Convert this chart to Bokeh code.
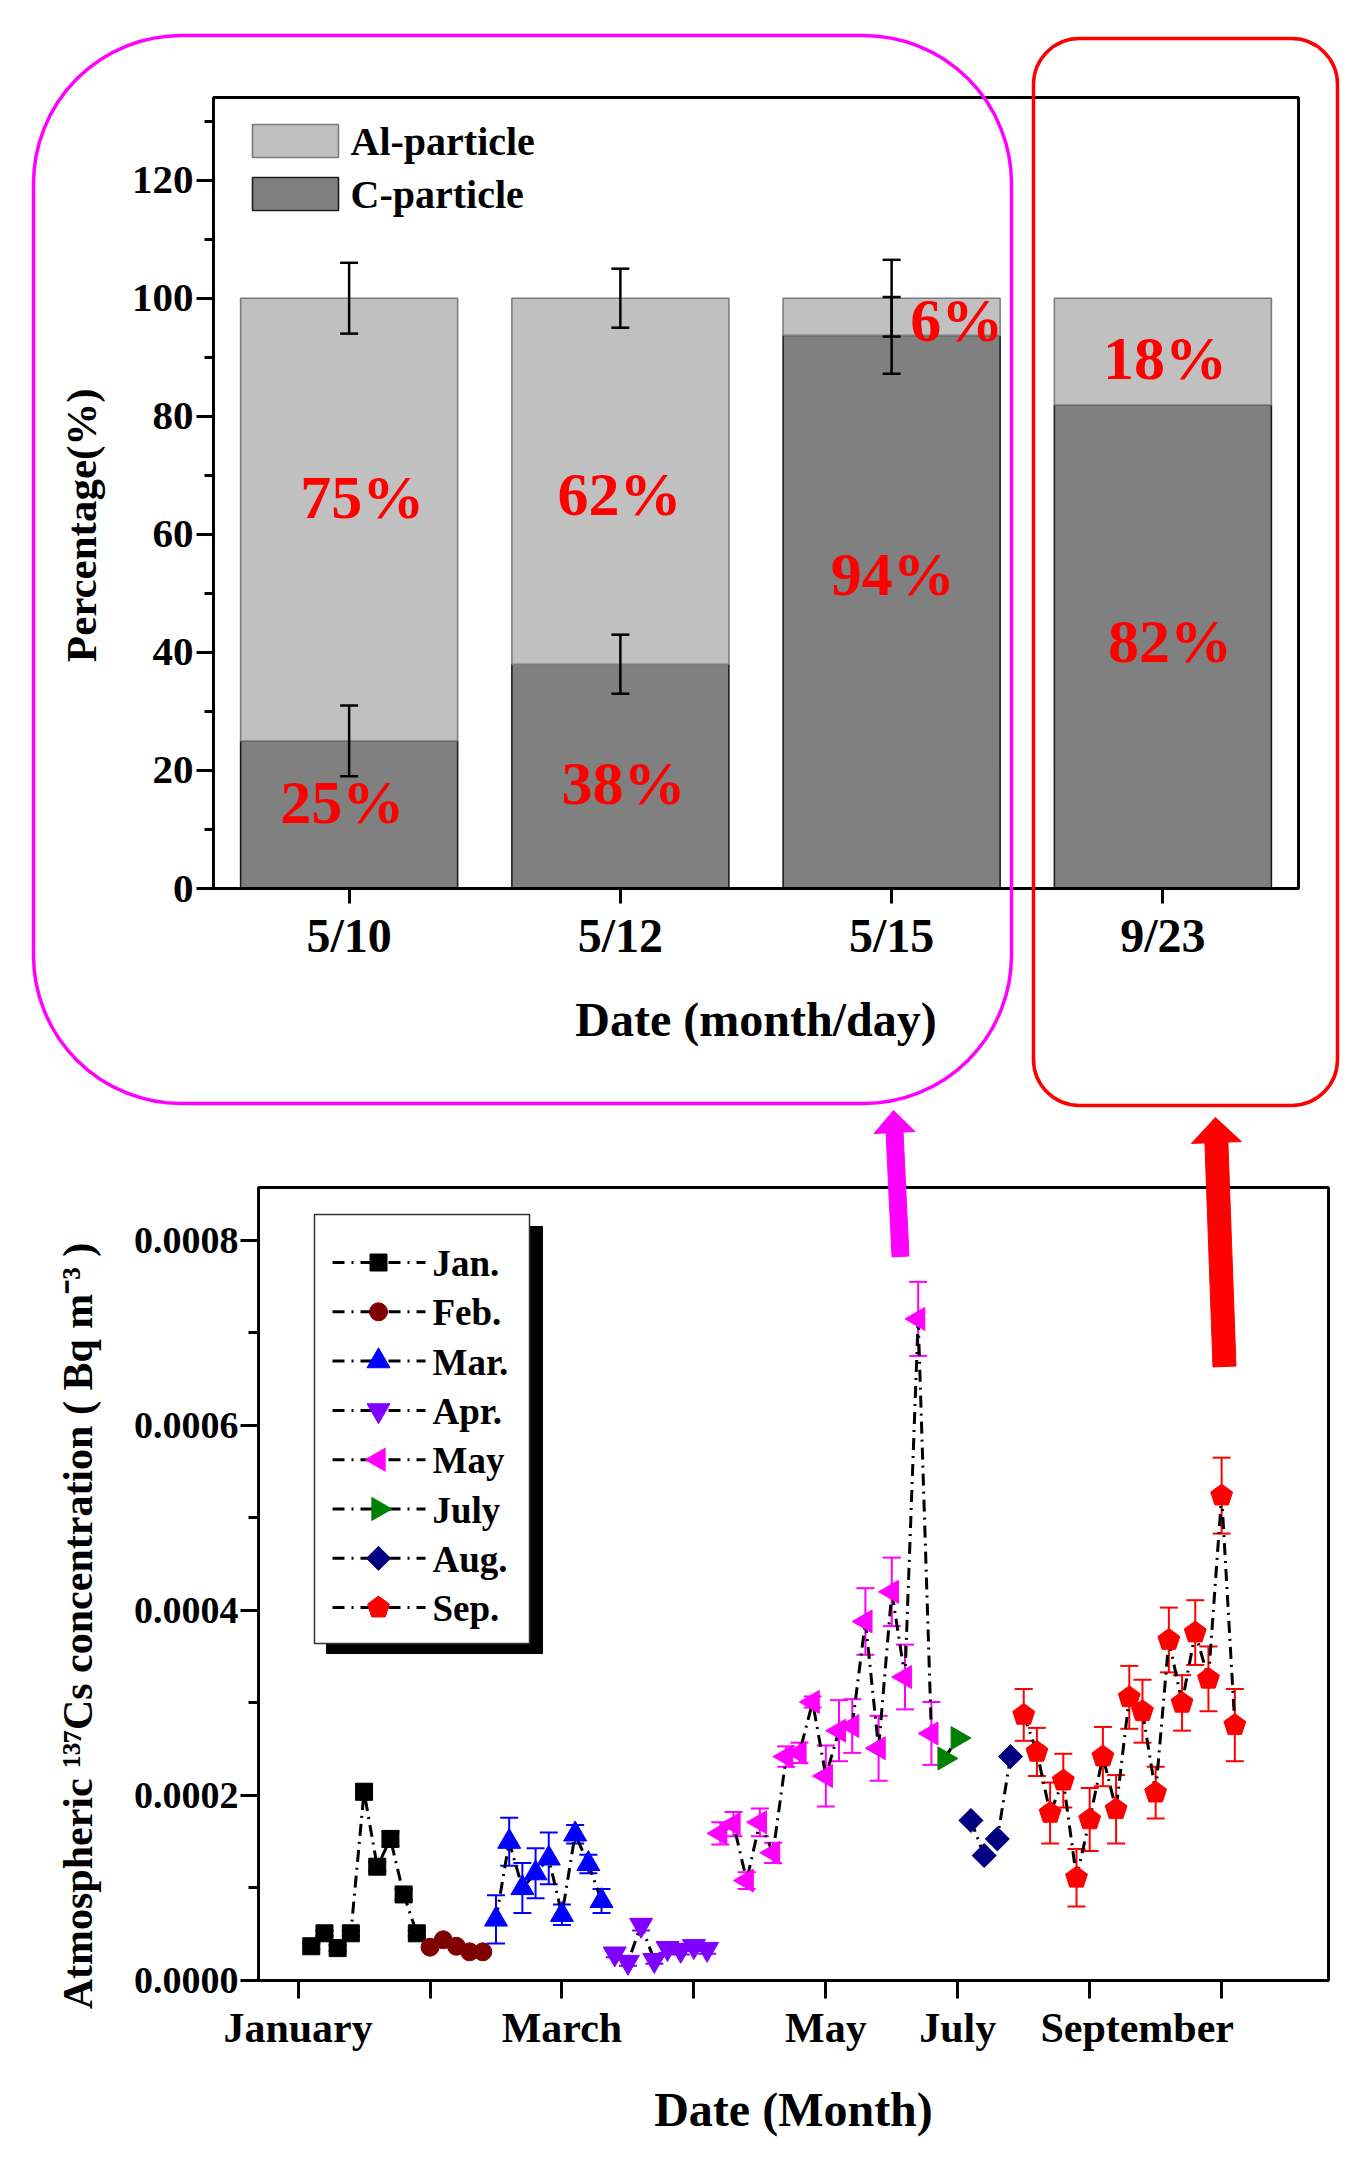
import math
from bokeh.plotting import figure
from bokeh.models import (ColumnDataSource, FactorRange, Range1d, FixedTicker,
                          Whisker, TeeHead, BoxAnnotation, LinearAxis, PrintfTickFormatter)
from bokeh.layouts import column, row
from bokeh.embed import file_html
from bokeh.resources import INLINE
from bokeh.core.properties import value

FONT = "Liberation Serif"

# ---------------- top panel data (particle fractions, %) ----------------
dates = ["5/10", "5/12", "5/15", "9/23"]
c_particle = [25.0, 38.0, 93.7, 81.9]
al_particle = [75.0, 62.0, 6.3, 18.1]
c_err = [6.0, 5.0, 6.5, 0.0]
al_err = [6.0, 5.0, 6.5, 0.0]
c_text = ["25%", "38%", "94%", "82%"]
al_text = ["75%", "62%", "6%", "18%"]
top_major = [0, 20, 40, 60, 80, 100, 120]
top_minor = [10, 30, 50, 70, 90, 110, 130]

# ---------------- bottom panel data (137Cs, Bq m-3) ----------------
jan_x = [0.1, 0.2, 0.3, 0.4, 0.5, 0.6, 0.7, 0.8, 0.9]
jan_y = [3.7e-5, 5.1e-5, 3.5e-5, 5.1e-5, 2.04e-4, 1.23e-4, 1.53e-4, 9.3e-5, 5.1e-5]
jan_e = [3e-6, 3e-6, 3e-6, 3e-6, 8e-6, 5e-6, 8e-6, 6e-6, 3e-6]
feb_x = [1.0, 1.1, 1.2, 1.3, 1.4]
feb_y = [3.6e-5, 4.4e-5, 3.7e-5, 3.1e-5, 3.1e-5]
mar_x = [1.5, 1.6, 1.7, 1.8, 1.9, 2.0, 2.1, 2.2, 2.3]
mar_y = [6.6e-5, 1.50e-4, 1.00e-4, 1.16e-4, 1.32e-4, 7.1e-5, 1.58e-4, 1.26e-4, 8.6e-5]
mar_e = [2.6e-5, 2.6e-5, 2.7e-5, 2.7e-5, 2.8e-5, 1.1e-5, 1.0e-5, 1.0e-5, 1.3e-5]
apr_x = [2.4, 2.5, 2.6, 2.7, 2.8, 2.9, 3.0, 3.1]
apr_y = [2.9e-5, 2.0e-5, 6.0e-5, 2.2e-5, 3.5e-5, 3.3e-5, 3.7e-5, 3.4e-5]
apr_e = [4e-6, 4e-6, 6e-6, 4e-6, 5e-6, 5e-6, 5e-6, 5e-6]
may_x = [3.2, 3.3, 3.4, 3.5, 3.6, 3.7, 3.8, 3.9, 4.0, 4.1, 4.2, 4.3, 4.4, 4.5, 4.6, 4.7, 4.8]
may_y = [1.59e-4, 1.69e-4, 1.08e-4, 1.71e-4, 1.38e-4, 2.42e-4, 2.46e-4, 3.01e-4, 2.21e-4,
         2.70e-4, 2.75e-4, 3.88e-4, 2.51e-4, 4.20e-4, 3.28e-4, 7.15e-4, 2.67e-4]
may_e = [1.2e-5, 1.3e-5, 9e-6, 1.5e-5, 1.1e-5, 1.1e-5, 1.1e-5, 6e-6, 3.3e-5,
         3.3e-5, 2.9e-5, 3.6e-5, 3.5e-5, 3.7e-5, 3.5e-5, 4.0e-5, 3.4e-5]
jul_x = [4.9, 5.0]
jul_y = [2.40e-4, 2.62e-4]
aug_x = [5.1, 5.2, 5.3, 5.4]
aug_y = [1.73e-4, 1.35e-4, 1.53e-4, 2.42e-4]
sep_x = [5.5, 5.6, 5.7, 5.8, 5.9, 6.0, 6.1, 6.2, 6.3, 6.4, 6.5, 6.6, 6.7, 6.8, 6.9, 7.0, 7.1]
sep_y = [2.87e-4, 2.47e-4, 1.81e-4, 2.16e-4, 1.11e-4, 1.74e-4, 2.42e-4, 1.85e-4, 3.06e-4,
         2.91e-4, 2.03e-4, 3.68e-4, 3.00e-4, 3.76e-4, 3.26e-4, 5.24e-4, 2.76e-4]
sep_e = [2.8e-5, 2.6e-5, 3.3e-5, 2.9e-5, 3.1e-5, 3.4e-5, 3.2e-5, 3.7e-5, 3.4e-5,
         3.4e-5, 2.8e-5, 3.5e-5, 3.0e-5, 3.5e-5, 3.5e-5, 4.1e-5, 3.9e-5]

month_names = ["Jan.", "Feb.", "Mar.", "Apr.", "May", "July", "Aug.", "Sep."]
month_colors = ["black", "#800000", "#0000ff", "#8000ff", "#ff00ff", "#008000", "#000080", "#ff0000"]
month_ticks = [0, 1, 2, 3, 4, 5, 6, 7]
month_label_pos = [0, 2, 4, 5, 6.36]
month_label_txt = ["January", "March", "May", "July", "September"]
y_major = [0.0, 0.0002, 0.0004, 0.0006, 0.0008]
y_minor = [0.0001, 0.0003, 0.0005, 0.0007]

# ---------------- layout constants (page pixels) ----------------
W = 1355
H1, H2 = 1107, 1053
TL, TR, TT, TB = 213, 1298, 97, 888          # top frame
BL, BR, BT, BB = 258, 1328, 1187, 1980       # bottom frame
TOP_Y = (0, 134)
BOT_X = (-0.30, 7.81)
BOT_Y = (0, 0.000857)
NB = "\u00a0"


def tx(px):
    return (px - TL) / (TR - TL) * len(dates)


def ty(py):
    return TOP_Y[0] + (TB - py) / (TB - TT) * (TOP_Y[1] - TOP_Y[0])


def bx(px):
    return BOT_X[0] + (px - BL) / (BR - BL) * (BOT_X[1] - BOT_X[0])


def by(py):
    return BOT_Y[0] + (BB - py) / (BB - BT) * (BOT_Y[1] - BOT_Y[0])


PPX = (BR - BL) / (BOT_X[1] - BOT_X[0])   # px per x unit (bottom)
PPY = (BB - BT) / (BOT_Y[1] - BOT_Y[0])   # px per y unit (bottom)


def style_axis(ax, tick_size, label_size, tick_out, minor_out=0):
    ax.axis_line_width = 3
    ax.axis_line_color = "black"
    ax.major_tick_line_width = 3
    ax.minor_tick_line_width = 3
    ax.major_tick_line_color = "black"
    ax.minor_tick_line_color = "black"
    ax.major_tick_in = 0
    ax.minor_tick_in = 0
    ax.major_tick_out = tick_out
    ax.minor_tick_out = minor_out
    ax.major_label_text_font = FONT
    ax.major_label_text_font_style = "bold"
    ax.major_label_text_font_size = tick_size
    ax.major_label_text_color = "black"
    ax.axis_label_text_font = FONT
    ax.axis_label_text_font_style = "bold"
    ax.axis_label_text_font_size = label_size
    ax.axis_label_text_color = "black"


# =============================== TOP PANEL ===============================
p1 = figure(x_range=FactorRange(factors=dates), y_range=Range1d(*TOP_Y),
            width=W, height=H1, output_backend="svg", toolbar_location=None,
            min_border_left=TL, min_border_right=W - TR,
            min_border_top=TT, min_border_bottom=H1 - TB)
p1.xgrid.visible = False
p1.ygrid.visible = False
p1.outline_line_color = "black"
p1.outline_line_width = 3
p1.outline_line_alpha = 1.0

src = ColumnDataSource(dict(date=dates, c=c_particle, al=al_particle))
stack = p1.vbar_stack(["c", "al"], x="date", width=0.8, source=src,
                      fill_color=["#808080", "#c0c0c0"],
                      line_color=["#1e1e1e", "#7c7c7c"], line_width=1.6)

eb_base, eb_up, eb_lo = [], [], []
for d, c, a, ce, ae in zip(dates, c_particle, al_particle, c_err, al_err):
    if ae > 0:
        eb_base.append(d); eb_up.append(c + a + ae); eb_lo.append(c + a - ae)
    if ce > 0:
        eb_base.append(d); eb_up.append(c + ce); eb_lo.append(c - ce)
wsrc = ColumnDataSource(dict(base=eb_base, upper=eb_up, lower=eb_lo))
p1.add_layout(Whisker(source=wsrc, base="base", upper="upper", lower="lower",
                      line_color="black", line_width=2.5, level="overlay",
                      upper_head=TeeHead(size=18, line_width=2.5, line_color="black"),
                      lower_head=TeeHead(size=18, line_width=2.5, line_color="black")))

# percentage annotations (placement)
lab_y = [14.7, 17.8, 53.2, 41.9, 66.3, 66.8, 96.3, 89.8]
lab_dx = [-7, 3, 1, 7, 13, -1, 65, 2]
tsrc = ColumnDataSource(dict(x=dates + dates, y=lab_y, t=c_text + al_text, dx=lab_dx))
p1.text(x="x", y="y", text="t", x_offset="dx", source=tsrc, text_color="#ff0000",
        text_font=value(FONT), text_font_style="bold", text_font_size=value("62px"),
        text_align="center", text_baseline="middle")

# legend (top-left, drawn in place)
sw_top = [124, 177]
p1.quad(left=[tx(252)] * 2, right=[tx(338)] * 2,
        top=[ty(v) for v in sw_top], bottom=[ty(v + 33) for v in sw_top],
        fill_color=["#c0c0c0", "#808080"], line_color=["#7c7c7c", "#1e1e1e"], line_width=1.6)
p1.text(x=[tx(350)] * 2, y=[ty(v + 17) for v in sw_top], text=["Al-particle", "C-particle"],
        text_font=value(FONT), text_font_style="bold", text_font_size=value("40px"),
        text_color="black", text_align="left", text_baseline="middle")

style_axis(p1.xaxis[0], "48px", "48px", 15)
p1.xaxis.axis_label = "Date (month/day)"
p1.xaxis.major_label_standoff = 5
p1.xaxis.axis_label_standoff = 28
style_axis(p1.yaxis[0], "41px", "43px", 17, 9)
p1.yaxis.ticker = FixedTicker(ticks=top_major, minor_ticks=top_minor)
p1.yaxis.axis_label = "Percentage(%)" + NB * 6
p1.yaxis.major_label_standoff = 3
p1.yaxis.axis_label_standoff = 24

# =============================== BOTTOM PANEL ===============================
p2 = figure(x_range=Range1d(*BOT_X), y_range=Range1d(*BOT_Y),
            width=W, height=H2, output_backend="svg", toolbar_location=None,
            min_border_left=BL, min_border_right=W - BR,
            min_border_top=BT - H1, min_border_bottom=H1 + H2 - BB)
p2.xgrid.visible = False
p2.ygrid.visible = False
p2.outline_line_color = "black"
p2.outline_line_width = 3
p2.outline_line_alpha = 1.0

DASH = "12 6 2 6"
PENT_R = 11.5


def pentagons(xs, ys, r=PENT_R):
    px, py = [], []
    for x, y in zip(xs, ys):
        angs = [math.radians(90 + 72 * k) for k in range(5)]
        px.append([x + r * math.cos(a) / PPX for a in angs])
        py.append([y + r * math.sin(a) / PPY for a in angs])
    return px, py


markers = [dict(marker="square", size=17), dict(marker="circle", size=18),
           dict(marker="triangle", size=23), dict(marker="inverted_triangle", size=23),
           dict(marker="triangle", size=23, angle=math.pi / 2),
           dict(marker="triangle", size=23, angle=-math.pi / 2),
           dict(marker="square", size=17, angle=math.pi / 4), None]
series = [(jan_x, jan_y, jan_e), (feb_x, feb_y, None), (mar_x, mar_y, mar_e),
          (apr_x, apr_y, apr_e), (may_x, may_y, may_e), (jul_x, jul_y, None),
          (aug_x, aug_y, None), (sep_x, sep_y, sep_e)]

for (xs, ys, es), col, mk in zip(series, month_colors, markers):
    s = ColumnDataSource(dict(x=xs, y=ys))
    if es is not None:
        es_src = ColumnDataSource(dict(x=xs, up=[a + b for a, b in zip(ys, es)],
                                       lo=[a - b for a, b in zip(ys, es)]))
        p2.add_layout(Whisker(source=es_src, base="x", upper="up", lower="lo",
                              line_color=col, line_width=2, level="underlay",
                              upper_head=TeeHead(size=18, line_color=col, line_width=2),
                              lower_head=TeeHead(size=18, line_color=col, line_width=2)))
    p2.line(x="x", y="y", source=s, line_color="black", line_width=3, line_dash=DASH)
    if mk is not None:
        p2.scatter(x="x", y="y", source=s, fill_color=col, line_color=col, **mk)
    else:
        pxs, pys = pentagons(xs, ys)
        p2.patches(xs=pxs, ys=pys, fill_color=col, line_color=col)

# legend box with shadow (drawn in place)
p2.quad(left=bx(326), right=bx(542), top=by(1226), bottom=by(1653), color="black")
p2.quad(left=bx(314), right=bx(529), top=by(1214), bottom=by(1643),
        fill_color="white", line_color="#333333", line_width=1.5)
row_y = [1262 + 49.3 * i for i in range(len(month_names))]
p2.segment(x0=[bx(332)] * 8, x1=[bx(425)] * 8, y0=[by(v) for v in row_y],
           y1=[by(v) for v in row_y], line_color="black", line_width=3, line_dash="12 7 2 7")
for i, (col, mk) in enumerate(zip(month_colors, markers)):
    if mk is not None:
        p2.scatter(x=[bx(378)], y=[by(row_y[i])], fill_color=col, line_color=col, **mk)
    else:
        pxs, pys = pentagons([bx(378)], [by(row_y[i])])
        p2.patches(xs=pxs, ys=pys, fill_color=col, line_color=col)
p2.text(x=[bx(432)] * 8, y=[by(v + 1) for v in row_y], text=month_names,
        text_font=value(FONT), text_font_style="bold", text_font_size=value("37px"),
        text_color="black", text_align="left", text_baseline="middle")

# axes
ax1 = p2.xaxis[0]
style_axis(ax1, "1px", "1px", 18)
ax1.ticker = FixedTicker(ticks=month_ticks)
ax1.major_label_overrides = {t: "" for t in month_ticks}
ax1.major_label_standoff = 0

ax2 = LinearAxis(ticker=FixedTicker(ticks=month_label_pos),
                 major_label_overrides={p: t for p, t in zip(month_label_pos, month_label_txt)})
style_axis(ax2, "42px", "48px", 0)
ax2.axis_line_color = None
ax2.major_tick_line_color = None
ax2.minor_tick_line_color = None
ax2.major_label_standoff = 6
ax2.axis_label = "Date (Month)"
ax2.axis_label_standoff = 29
p2.add_layout(ax2, "below")

yax = p2.yaxis[0]
style_axis(yax, "38px", "42px", 18, 10)
yax.ticker = FixedTicker(ticks=y_major, minor_ticks=y_minor)
yax.formatter = PrintfTickFormatter(format="%.4f")
yax.major_label_standoff = 2
yax.axis_label = "Atmospheric \u00b9\u00b3\u2077Cs concentration ( Bq m\u207b\u00b3 )" + NB * 8
yax.axis_label_standoff = 30

# =============================== OVERLAY (highlight boxes + arrows) ===============================
HT = H1 + H2
p3 = figure(x_range=Range1d(0, W), y_range=Range1d(HT, 0), width=W, height=HT,
            output_backend="svg", toolbar_location=None, x_axis_location=None,
            y_axis_location=None, min_border=0, min_border_left=0, min_border_right=0,
            min_border_top=0, min_border_bottom=0)
p3.xgrid.visible = False
p3.ygrid.visible = False
p3.outline_line_color = None
p3.background_fill_alpha = 0
p3.border_fill_alpha = 0

p3.add_layout(BoxAnnotation(left=33, right=1011, top=35, bottom=1103, fill_alpha=0,
                            line_color="#ff00ff", line_alpha=1, line_width=3.5,
                            border_radius=148))
p3.add_layout(BoxAnnotation(left=1033, right=1337, top=38, bottom=1105, fill_alpha=0,
                            line_color="#ff0000", line_alpha=1, line_width=3.5,
                            border_radius=46))


def arrow_poly(tip, tail, shaft_w, head_w, head_len):
    dx, dy = tip[0] - tail[0], tip[1] - tail[1]
    L = math.hypot(dx, dy)
    ux, uy = dx / L, dy / L
    nx, ny = -uy, ux
    hx, hy = tip[0] - ux * head_len, tip[1] - uy * head_len
    pts = [(tail[0] + nx * shaft_w / 2, tail[1] + ny * shaft_w / 2),
           (hx + nx * shaft_w / 2, hy + ny * shaft_w / 2),
           (hx + nx * head_w / 2, hy + ny * head_w / 2),
           tip,
           (hx - nx * head_w / 2, hy - ny * head_w / 2),
           (hx - nx * shaft_w / 2, hy - ny * shaft_w / 2),
           (tail[0] - nx * shaft_w / 2, tail[1] - ny * shaft_w / 2)]
    return [p[0] for p in pts], [p[1] for p in pts]


for tip, tail, sw, hw, hl, col in [((893, 1110), (900, 1256), 17, 41, 22, "#ff00ff"),
                                   ((1215, 1117), (1224, 1366), 23, 50, 25, "#ff0000")]:
    xs, ys = arrow_poly(tip, tail, sw, hw, hl)
    p3.patch(x=xs, y=ys, fill_color=col, line_color=col, line_width=1)

overlay = row(p3, styles={"position": "absolute", "left": "0px", "top": "0px",
                          "z-index": "10", "pointer-events": "none"})
layout = column(row(p1), row(p2), overlay)
open("out.html", "w").write(file_html(layout, INLINE))
